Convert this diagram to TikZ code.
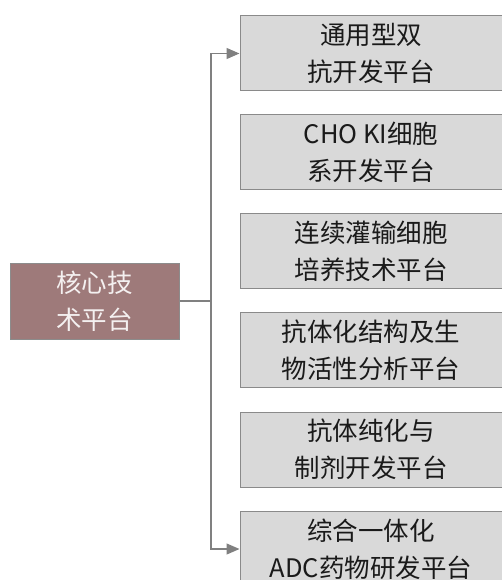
\documentclass[tikz,border=0pt]{standalone}
\usepackage{fontspec}
\setmainfont{Noto Sans CJK SC}
\usetikzlibrary{arrows.meta}
\definecolor{corefill}{HTML}{9E7A7A}
\definecolor{coreline}{HTML}{8C8C8C}
\definecolor{boxfill}{HTML}{D9D9D9}
\definecolor{boxline}{HTML}{8A8A8A}
\definecolor{conn}{HTML}{808080}
\definecolor{txt}{HTML}{1A1A1A}
\definecolor{coretxt}{HTML}{F4F0F0}
\begin{document}
\begin{tikzpicture}[x=1pt,y=-1pt,
  corebox/.style={draw=coreline,line width=1pt,fill=corefill,text=coretxt,
    minimum width=169pt,minimum height=76pt,align=center,inner sep=0pt,
    font=\fontsize{25.5}{37}\selectfont},
  platbox/.style={draw=boxline,line width=1pt,fill=boxfill,text=txt,
    minimum width=262pt,minimum height=75pt,align=center,inner sep=0pt,
    font=\fontsize{25.5}{37}\selectfont},
  link/.style={draw=conn,line width=1.3pt},
  arr/.style={link,-{Triangle[length=13pt,width=11pt]},shorten >=0pt}]
\useasboundingbox (0,0) rectangle (501,580);
\node[corebox] (core) at (94.5,301) {核心技\\术平台};
\node[platbox] (b1) at (371,53.5) {通用型双\\抗开发平台};
\node[platbox] (b2) at (371,152) {CHO KI细胞\\系开发平台};
\node[platbox] (b3) at (371,251) {连续灌输细胞\\培养技术平台};
\node[platbox] (b4) at (371,350) {抗体化结构及生\\物活性分析平台};
\node[platbox] (b5) at (371,449.5) {抗体纯化与\\制剂开发平台};
\node[platbox] (b6) at (371,549) {综合一体化\\ADC药物研发平台};
\coordinate (j) at (211,301);
\draw[link] (core.east) -- (j);
\draw[arr] (j) |- (b1.west);
\draw[arr] (j) |- (b6.west);
\end{tikzpicture}
\end{document}
